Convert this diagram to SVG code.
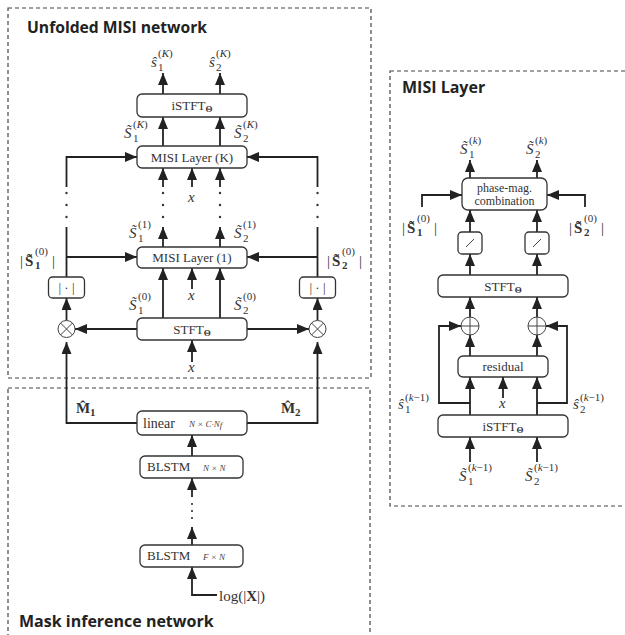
<svg xmlns="http://www.w3.org/2000/svg" width="625" height="635" viewBox="0 0 625 635">
  <defs>
    <marker id="ah" viewBox="0 0 12 10" refX="12" refY="5" markerWidth="12" markerHeight="10" markerUnits="userSpaceOnUse" orient="auto">
      <path d="M0,0 L12,5 L0,10 z" fill="#222"/>
    </marker>
  </defs>
  <style>
    .panel { fill: none; stroke: #444; stroke-width: 1.2; stroke-dasharray: 4 3; }
    .title { font-family: "Open Sans", "Liberation Sans", sans-serif; font-weight: bold; font-size: 16px; fill: #222; }
    .box { fill: #fff; stroke: #333; stroke-width: 1.3; }
    .bt { font-family: "Liberation Serif", serif; font-size: 13px; fill: #333; text-anchor: middle; }
    .th { font-family: "Liberation Serif", serif; font-size: 9px; font-weight: bold; }
    .dim { font-family: "Liberation Serif", serif; font-size: 9px; font-style: italic; fill: #444; }
    .w { fill: none; stroke: #222; stroke-width: 1.8; }
    .a { marker-end: url(#ah); }
    .dot { fill: #333; }
    .op { fill: #fff; stroke: #444; stroke-width: 1; }
    .m { font-family: "Liberation Serif", serif; font-style: italic; font-size: 15px; fill: #333; }
    .mb { font-family: "Liberation Serif", serif; font-weight: bold; font-size: 15px; fill: #333; }
    .r { font-family: "Liberation Serif", serif; font-size: 15px; fill: #333; }
    .s { font-family: "Liberation Serif", serif; font-size: 11px; fill: #333; }
  </style>

  <!-- panels -->
  <g id="panels">
    <rect class="panel" x="8" y="8" width="363" height="370"/>
    <rect class="panel" x="8" y="388" width="362" height="260"/>
    <rect class="panel" x="390" y="71" width="245" height="435"/>
    <text class="title" x="27" y="33" textLength="180" lengthAdjust="spacingAndGlyphs">Unfolded MISI network</text>
    <text class="title" x="19" y="627">Mask inference network</text>
    <text class="title" x="402" y="93">MISI Layer</text>
  </g>

  <!-- connectors -->
  <g id="connectors">
    <!-- unfolded network -->
    <path class="w a" d="M163,94 V73"/>
    <path class="w a" d="M220,94 V73"/>
    <path class="w a" d="M163,146 V117"/>
    <path class="w a" d="M220,146 V117"/>
    <path class="w a" d="M66.5,187 V157 H137"/>
    <path class="w a" d="M317.5,187 V157 H247"/>
    <path class="w a" d="M163,187 V168"/>
    <path class="w a" d="M192,187 V168"/>
    <path class="w a" d="M220,187 V168"/>
    <path class="w a" d="M163,247 V227"/>
    <path class="w a" d="M220,247 V227"/>
    <path class="w" d="M66.5,277 V227"/>
    <path class="w" d="M317.5,277 V227"/>
    <path class="w a" d="M66.5,257 H137"/>
    <path class="w a" d="M317.5,257 H247"/>
    <path class="w a" d="M192,289 V268"/>
    <path class="w a" d="M163,318 V268"/>
    <path class="w a" d="M220,318 V268"/>
    <path class="w a" d="M66.5,320.5 V298"/>
    <path class="w a" d="M317.5,320.5 V298"/>
    <path class="w a" d="M137,329 H75"/>
    <path class="w a" d="M247,329 H309"/>
    <path class="w a" d="M192,362 V340"/>
    <path class="w a" d="M137,423 H66.5 V342"/>
    <path class="w a" d="M247,423 H317.5 V342"/>
    <!-- mask inference -->
    <path class="w a" d="M192,456 V435"/>
    <path class="w a" d="M192,497 V478"/>
    <path class="w a" d="M192,545 V527"/>
    <path class="w a" d="M217,595 H192 V567"/>
    <!-- continuation dots -->
    <circle class="dot" cx="66.5" cy="193" r="1.2"/><circle class="dot" cx="66.5" cy="205" r="1.2"/><circle class="dot" cx="66.5" cy="217" r="1.2"/>
    <circle class="dot" cx="163" cy="193" r="1.2"/><circle class="dot" cx="163" cy="205" r="1.2"/><circle class="dot" cx="163" cy="217" r="1.2"/>
    <circle class="dot" cx="220" cy="193" r="1.2"/><circle class="dot" cx="220" cy="205" r="1.2"/><circle class="dot" cx="220" cy="217" r="1.2"/>
    <circle class="dot" cx="317.5" cy="193" r="1.2"/><circle class="dot" cx="317.5" cy="205" r="1.2"/><circle class="dot" cx="317.5" cy="217" r="1.2"/>
    <circle class="dot" cx="192" cy="504" r="1.1"/><circle class="dot" cx="192" cy="511" r="1.1"/><circle class="dot" cx="192" cy="518" r="1.1"/>

    <!-- MISI layer detail -->
    <path class="w a" d="M470,178 V160"/>
    <path class="w a" d="M537,178 V160"/>
    <path class="w a" d="M422,207 V195 H462"/>
    <path class="w a" d="M585,207 V195 H547"/>
    <path class="w a" d="M470,232 V210"/>
    <path class="w a" d="M537,232 V210"/>
    <path class="w a" d="M470,275 V254"/>
    <path class="w a" d="M537,275 V254"/>
    <path class="w a" d="M470,317 V297"/>
    <path class="w a" d="M537,317 V297"/>
    <path class="w a" d="M470,356 V335"/>
    <path class="w a" d="M537,356 V335"/>
    <path class="w a" d="M470,403 H439 V326 H461"/>
    <path class="w a" d="M537,403 H567 V326 H546"/>
    <path class="w a" d="M470,415 V377"/>
    <path class="w a" d="M537,415 V377"/>
    <path class="w a" d="M503,398 V377"/>
    <path class="w a" d="M470,462 V437"/>
    <path class="w a" d="M537,462 V437"/>
  </g>

  <!-- unfolded network nodes -->
  <g id="istft-out">
    <rect class="box" x="137" y="94" width="110" height="23" rx="5"/>
    <text class="bt" x="192" y="110">iSTFT<tspan class="th" dy="2">Θ</tspan></text>
  </g>
  <g id="misi-k">
    <rect class="box" x="137" y="146" width="110" height="22" rx="5"/>
    <text class="bt" x="192" y="162">MISI Layer (K)</text>
  </g>
  <g id="misi-1">
    <rect class="box" x="137" y="247" width="110" height="21" rx="5"/>
    <text class="bt" x="192" y="262">MISI Layer (1)</text>
  </g>
  <g id="stft-in">
    <rect class="box" x="137" y="318" width="110" height="22" rx="5"/>
    <text class="bt" x="192" y="334">STFT<tspan class="th" dy="2">Θ</tspan></text>
  </g>
  <g id="abs-1">
    <rect class="box" x="48.5" y="277" width="36" height="21" rx="4"/>
    <text class="bt" x="66.5" y="292">| · |</text>
  </g>
  <g id="abs-2">
    <rect class="box" x="299.5" y="277" width="36" height="21" rx="4"/>
    <text class="bt" x="317.5" y="292">| · |</text>
  </g>
  <g id="mul-1">
    <circle class="op" cx="66.5" cy="329" r="8.5"/>
    <path class="op" d="M60.5,323 L72.5,335 M72.5,323 L60.5,335"/>
  </g>
  <g id="mul-2">
    <circle class="op" cx="317.5" cy="329" r="8.5"/>
    <path class="op" d="M311.5,323 L323.5,335 M323.5,323 L311.5,335"/>
  </g>

  <!-- mask inference nodes -->
  <g id="linear">
    <rect class="box" x="137" y="411" width="110" height="24" rx="5"/>
    <text class="bt" x="143" y="428" style="text-anchor:start;font-size:14px">linear</text>
    <text class="dim" x="189" y="427">N × C·N<tspan dy="1">f</tspan></text>
  </g>
  <g id="blstm-n">
    <rect class="box" x="140" y="456" width="103" height="22" rx="5"/>
    <text class="bt" x="147" y="471" style="text-anchor:start">BLSTM</text>
    <text class="dim" x="203" y="471">N × N</text>
  </g>
  <g id="blstm-f">
    <rect class="box" x="140" y="545" width="103" height="22" rx="5"/>
    <text class="bt" x="147" y="560" style="text-anchor:start">BLSTM</text>
    <text class="dim" x="203" y="560">F × N</text>
  </g>

  <!-- MISI layer nodes -->
  <g id="phase-mag">
    <rect class="box" x="462" y="178" width="85" height="32" rx="6"/>
    <text class="bt" x="504.5" y="192" style="font-size:12px">phase-mag.</text>
    <text class="bt" x="504.5" y="205" style="font-size:12px">combination</text>
  </g>
  <g id="angle-1">
    <rect class="box" x="458" y="232" width="24" height="22" rx="4"/>
    <path class="op" d="M466,247 L474,239"/>
  </g>
  <g id="angle-2">
    <rect class="box" x="525" y="232" width="24" height="22" rx="4"/>
    <path class="op" d="M533,247 L541,239"/>
  </g>
  <g id="stft-k">
    <rect class="box" x="438" y="275" width="130" height="22" rx="5"/>
    <text class="bt" x="503" y="291">STFT<tspan class="th" dy="2">Θ</tspan></text>
  </g>
  <g id="add-1">
    <circle class="op" cx="470" cy="326" r="9"/>
    <path class="op" d="M461,326 H479 M470,317 V335"/>
  </g>
  <g id="add-2">
    <circle class="op" cx="537" cy="326" r="9"/>
    <path class="op" d="M528,326 H546 M537,317 V335"/>
  </g>
  <g id="residual">
    <rect class="box" x="458" y="356" width="90" height="21" rx="5"/>
    <text class="bt" x="503" y="371">residual</text>
  </g>
  <g id="istft-k">
    <rect class="box" x="438" y="415" width="130" height="22" rx="5"/>
    <text class="bt" x="503" y="431">iSTFT<tspan class="th" dy="2">Θ</tspan></text>
  </g>

  <!-- signal labels -->
  <g id="labels">
    <text class="m" x="151" y="67">ŝ</text><text class="s" x="158" y="57">(<tspan font-style="italic">K</tspan>)</text><text class="s" x="158" y="71">1</text>
    <text class="m" x="209" y="67">ŝ</text><text class="s" x="216" y="57">(<tspan font-style="italic">K</tspan>)</text><text class="s" x="216" y="71">2</text>

    <text class="m" x="124" y="138">S̃</text><text class="s" x="133" y="128">(<tspan font-style="italic">K</tspan>)</text><text class="s" x="133" y="142">1</text>
    <text class="m" x="234" y="138">S̃</text><text class="s" x="243" y="128">(<tspan font-style="italic">K</tspan>)</text><text class="s" x="243" y="142">2</text>

    <text class="m" x="129" y="238">S̃</text><text class="s" x="138" y="228">(1)</text><text class="s" x="138" y="242">1</text>
    <text class="m" x="234" y="238">S̃</text><text class="s" x="243" y="228">(1)</text><text class="s" x="243" y="242">2</text>

    <text class="m" x="129" y="310">S̃</text><text class="s" x="138" y="300">(0)</text><text class="s" x="138" y="314">1</text>
    <text class="m" x="234" y="310">S̃</text><text class="s" x="243" y="300">(0)</text><text class="s" x="243" y="314">2</text>

    <text class="m" x="188" y="202">x</text>
    <text class="m" x="188" y="300">x</text>
    <text class="m" x="188" y="372">x</text>

    <text class="r" x="20" y="266">|</text><text class="mb" x="25" y="266">S̃</text><text class="s" x="35" y="255">(0)</text><text class="s" x="35" y="269" font-weight="bold">1</text><text class="r" x="52" y="266">|</text>
    <text class="r" x="327" y="266">|</text><text class="mb" x="332" y="266">S̃</text><text class="s" x="342" y="255">(0)</text><text class="s" x="342" y="269" font-weight="bold">2</text><text class="r" x="359" y="266">|</text>

    <text class="mb" x="76" y="413">M̂</text><text class="s" x="90" y="416" font-weight="bold">1</text>
    <text class="mb" x="281" y="413">M̂</text><text class="s" x="295" y="416" font-weight="bold">2</text>

    <text class="r" x="219" y="601">log(|<tspan font-weight="bold">X</tspan>|)</text>

    <!-- MISI layer labels -->
    <text class="m" x="460" y="154">S̃</text><text class="s" x="469" y="144">(<tspan font-style="italic">k</tspan>)</text><text class="s" x="469" y="158">1</text>
    <text class="m" x="526" y="154">S̃</text><text class="s" x="535" y="144">(<tspan font-style="italic">k</tspan>)</text><text class="s" x="535" y="158">2</text>

    <text class="r" x="402" y="233">|</text><text class="mb" x="407" y="233">S̃</text><text class="s" x="417" y="222">(0)</text><text class="s" x="417" y="236" font-weight="bold">1</text><text class="r" x="434" y="233">|</text>
    <text class="r" x="569" y="233">|</text><text class="mb" x="574" y="233">S̃</text><text class="s" x="584" y="222">(0)</text><text class="s" x="584" y="236" font-weight="bold">2</text><text class="r" x="601" y="233">|</text>

    <text class="m" x="398" y="409">ŝ</text><text class="s" x="405" y="401">(<tspan font-style="italic">k</tspan>−1)</text><text class="s" x="405" y="413">1</text>
    <text class="m" x="573" y="409">ŝ</text><text class="s" x="580" y="401">(<tspan font-style="italic">k</tspan>−1)</text><text class="s" x="580" y="413">2</text>

    <text class="m" x="499" y="408">x</text>

    <text class="m" x="459" y="481">S̃</text><text class="s" x="468" y="471">(<tspan font-style="italic">k</tspan>−1)</text><text class="s" x="468" y="485">1</text>
    <text class="m" x="525" y="481">S̃</text><text class="s" x="534" y="471">(<tspan font-style="italic">k</tspan>−1)</text><text class="s" x="534" y="485">2</text>
  </g>
</svg>
